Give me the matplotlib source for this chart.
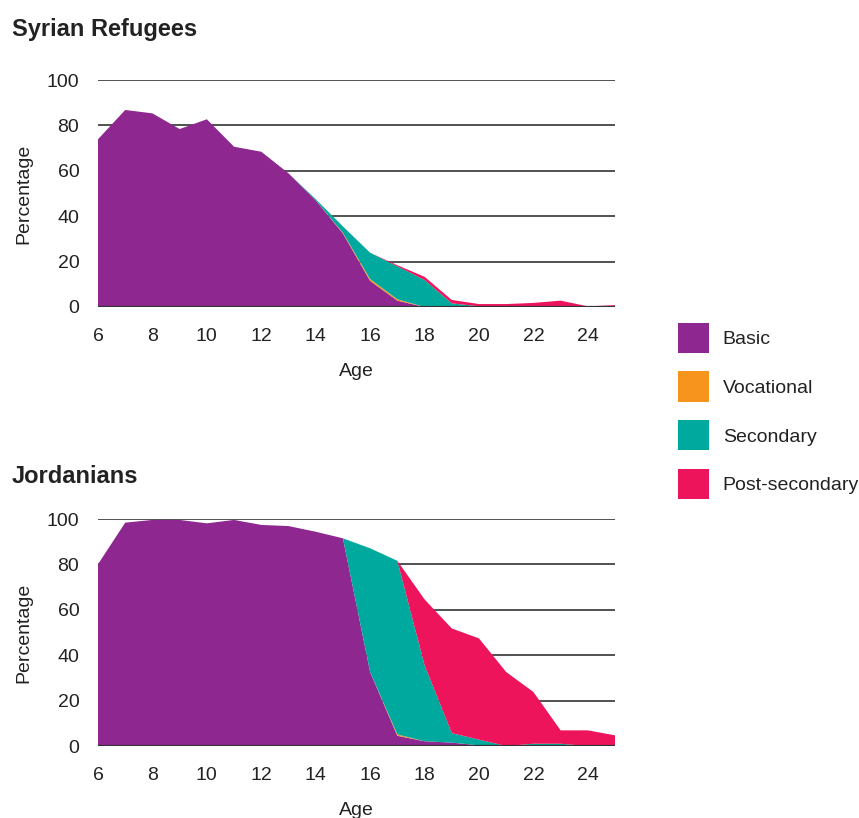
import numpy as np
import matplotlib.pyplot as plt
from matplotlib.patches import Patch

plt.rcParams['font.family'] = ['Liberation Sans', 'DejaVu Sans']

ages = list(range(6, 26))
categories = ["Basic", "Vocational", "Secondary", "Post-secondary"]
colors = ["#8E278F", "#F7941D", "#00A99D", "#ED145B"]

# Syrian refugees (percent enrolled by level)
syr_basic = [73.9, 86.8, 85.3, 78.4, 82.7, 70.6, 68.4, 58.9, 47.0, 32.4,
             11.5, 2.8, 0, 0, 0, 0, 0, 0, 0, 0]
syr_voc = [0, 0, 0, 0, 0, 0, 0, 0, 0, 0.3,
           0.8, 0.6, 0, 0, 0, 0, 0, 0, 0, 0]
syr_sec = [0, 0, 0, 0, 0, 0, 0, 0, 0.5, 2.8,
           11.6, 14.5, 11.9, 1.6, 0.3, 0, 0, 0, 0, 0]
syr_post = [0, 0, 0, 0, 0, 0, 0, 0, 0, 0,
            0, 0.5, 1.4, 1.5, 1.0, 1.3, 1.8, 2.8, 0.3, 0.8]

# Jordanians
jor_basic = [80.1, 98.4, 99.6, 99.6, 98.1, 99.6, 97.4, 96.9, 94.4, 91.5,
             32.6, 4.5, 2.1, 1.5, 0.3, 0, 0, 0, 0, 0]
jor_voc = [0, 0, 0, 0, 0, 0, 0, 0, 0, 0,
           0, 0.6, 0, 0, 0, 0, 0, 0, 0, 0]
jor_sec = [0, 0, 0, 0, 0, 0, 0, 0, 0, 0,
           54.5, 76.5, 33.5, 4.2, 2.5, 0, 1.0, 1.0, 0, 0]
jor_post = [0, 0, 0, 0, 0, 0, 0, 0, 0, 0,
            0, 0, 29.0, 46.1, 44.6, 32.6, 22.8, 5.9, 6.9, 4.7]

fig = plt.figure(figsize=(8.59, 8.18), dpi=100)

panels = [
    ("Syrian Refugees", [syr_basic, syr_voc, syr_sec, syr_post], 0.6247, 1 - 36 / 818),
    ("Jordanians", [jor_basic, jor_voc, jor_sec, jor_post], 0.0880, 1 - 483 / 818),
]

for title, series, bottom, title_y in panels:
    ax = fig.add_axes([0.1141, bottom, 0.6019, 0.2775])
    ax.stackplot(ages, *series, colors=colors, linewidth=0, zorder=2)
    ax.set_xlim(6, 25)
    ax.set_ylim(0, 100)
    ax.set_yticks(range(0, 101, 20))
    ax.set_xticks(range(6, 25, 2))
    for v in range(20, 101, 20):
        ax.axhline(v, color="#333333", linewidth=1.2, zorder=1)
    ax.axhline(0, color="#333333", linewidth=1.6, zorder=3)
    for s in ax.spines.values():
        s.set_visible(False)
    ax.tick_params(length=0, labelsize=14, colors="#222222")
    ax.tick_params(axis="x", pad=15)
    ax.tick_params(axis="y", pad=13.5)
    ax.set_ylabel("Percentage", fontsize=14, color="#222222", labelpad=10)
    ax.set_xlabel("Age", fontsize=14, color="#222222", labelpad=13)
    fig.text(12 / 859, title_y, title, fontsize=17, fontweight="bold",
             color="#222222", ha="left", va="baseline")

handles = [Patch(facecolor=c, edgecolor="none") for c in colors]
fig.legend(handles, categories, loc="upper left", bbox_to_anchor=(662 / 859, 1 - 307 / 818),
           frameon=False, fontsize=14, handlelength=1.6, handleheight=2.0,
           labelspacing=0.97, handletextpad=0.72, borderpad=0.3, labelcolor="#222222")

fig.savefig("out.png", dpi=100)
